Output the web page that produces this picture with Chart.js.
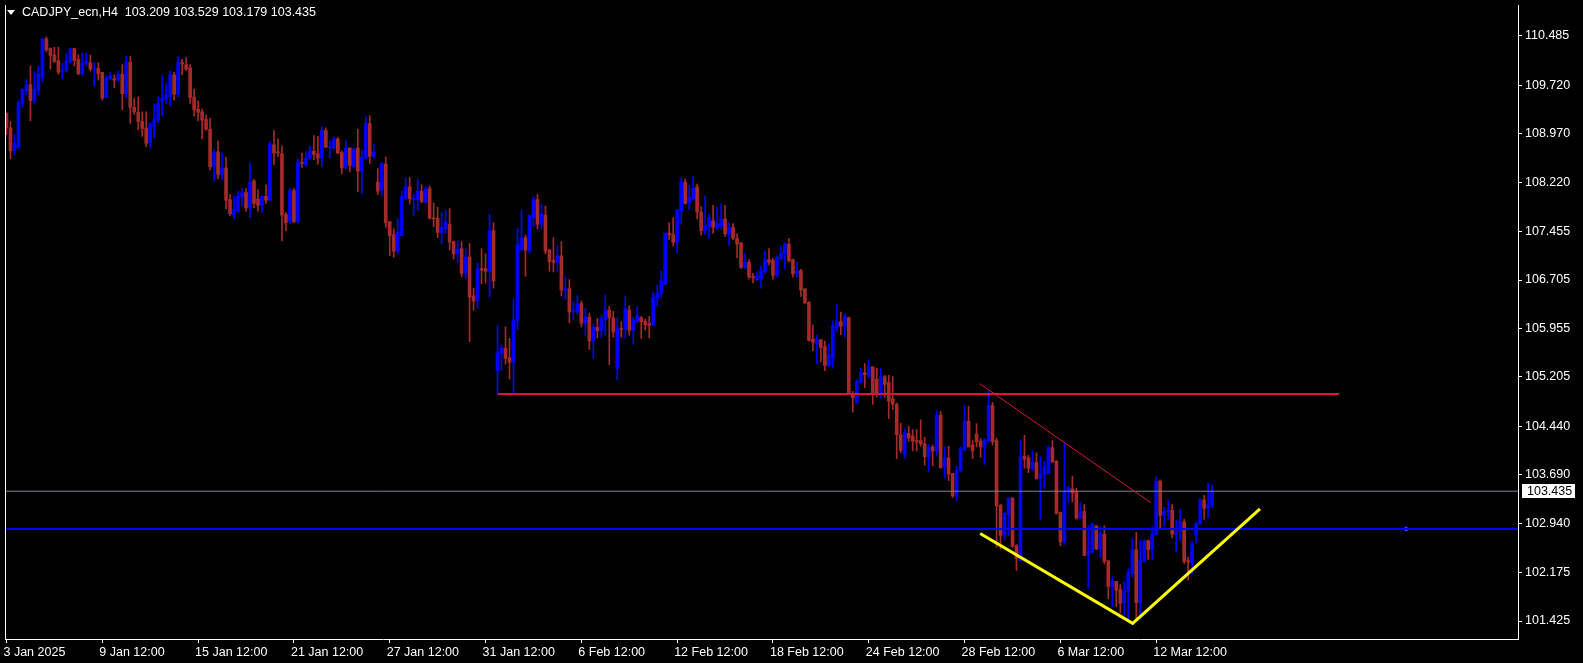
<!DOCTYPE html>
<html>
<head>
<meta charset="utf-8">
<script src="https://cdn.jsdelivr.net/npm/chart.js@4.4.1/dist/chart.umd.min.js"></script>
<style>
  html, body { margin: 0; padding: 0; background: #000; }
  #wrap { position: relative; width: 1583px; height: 663px; }
  #chart { display: block; }
  #title {
    position: absolute; left: 22px; top: 5px;
    color: #fff; font: 12.5px "Liberation Sans", Arial, sans-serif;
    white-space: pre; line-height: 14px;
  }
  #arrow {
    position: absolute; left: 7px; top: 10px; width: 0; height: 0;
    border-left: 4px solid transparent; border-right: 4px solid transparent;
    border-top: 5px solid #fff;
  }
</style>
</head>
<body>
<div id="wrap">
  <canvas id="chart" width="1583" height="663"></canvas>
  <div id="arrow"></div>
  <div id="title">CADJPY_ecn,H4  103.209 103.529 103.179 103.435</div>
</div>
<script>
// H4 candles (bar 0 = 3 Jan 12:00)
const opens = [
  109.29,109.06,108.71,108.75,109.44,109.64,109.73,109.48,109.64,109.84,
  110.44,110.29,110.19,110.10,109.94,109.94,110.08,110.29,110.12,109.90,
  110.06,110.07,109.97,109.98,109.92,109.53,109.82,109.82,109.80,109.89,
  109.59,110.08,109.38,109.30,109.16,109.06,108.83,109.08,109.18,109.47,
  109.50,109.54,109.88,109.58,110.07,110.04,109.99,109.54,109.35,109.31,
  109.19,109.04,108.46,108.69,108.34,108.44,107.95,107.71,107.77,107.99,
  108.06,107.82,108.24,107.96,107.86,108.00,107.94,108.80,108.69,108.66,
  107.72,107.61,108.09,107.61,108.53,108.49,108.59,108.70,108.66,108.59,
  109.02,108.75,108.75,108.89,108.68,108.44,108.75,108.46,108.75,108.39,
  108.59,109.13,108.62,108.22,108.10,108.50,107.61,107.41,107.15,107.39,
  107.97,108.15,107.95,107.95,108.08,107.91,108.12,107.67,107.66,107.44,
  107.50,107.57,107.30,107.11,107.19,106.81,107.06,106.46,106.38,106.88,
  106.88,106.84,107.47,105.30,105.57,105.65,105.50,105.43,106.07,107.17,
  107.36,107.16,107.67,107.95,107.57,107.71,107.17,107.01,106.98,107.08,
  106.55,106.57,106.22,106.22,106.34,106.04,106.13,105.76,105.97,105.92,
  106.09,106.24,106.12,105.33,105.95,105.94,106.24,105.93,106.07,106.12,
  106.07,106.03,106.00,106.42,106.50,106.64,107.43,107.41,107.29,107.77,
  108.22,107.90,107.96,108.15,107.76,107.47,107.53,107.62,107.51,107.54,
  107.65,107.42,107.52,107.35,107.28,106.90,106.98,106.76,106.71,106.72,
  106.83,107.02,107.01,106.78,107.04,107.11,107.26,107.02,106.80,106.85,
  106.57,106.36,105.79,105.72,105.78,105.67,105.38,105.49,105.97,106.06,
  105.99,106.12,104.95,104.80,105.12,105.27,105.22,105.36,105.17,104.95,
  105.21,105.12,104.87,104.78,104.31,104.00,104.33,104.29,104.22,104.22,
  104.17,103.97,104.12,104.06,104.61,103.80,103.95,103.71,103.36,103.75,
  104.07,104.52,104.15,104.32,104.21,104.12,104.21,104.76,104.22,103.22,
  102.75,103.07,103.33,102.59,102.36,103.98,103.95,103.79,103.88,103.63,
  103.69,103.71,104.11,103.90,103.11,102.65,103.42,103.47,103.42,103.02,
  103.12,102.44,102.49,102.90,102.54,102.77,102.36,101.96,102.04,101.91,
  101.70,101.88,102.16,102.53,101.70,102.35,102.67,102.53,102.77,103.59,
  103.06,103.11,103.14,102.77,102.81,102.96,102.36,102.32,102.75,102.93,
  103.30,103.17,103.209
];
const highs = [
  109.29,109.16,108.96,109.48,109.66,109.81,110.02,109.93,110.01,110.44,
  110.47,110.30,110.31,110.31,110.06,110.21,110.29,110.29,110.19,110.22,
  110.22,110.19,110.07,110.07,109.92,109.87,109.92,109.88,109.94,110.04,
  110.17,110.17,109.52,109.54,109.31,109.31,109.14,109.43,109.54,109.87,
  109.75,109.94,109.92,110.16,110.12,110.15,110.04,109.66,109.48,109.35,
  109.26,109.21,108.72,108.86,108.67,108.61,108.03,108.00,108.08,108.13,
  108.12,108.52,108.26,108.10,108.00,108.18,108.85,109.02,108.89,108.78,
  107.75,108.12,108.12,108.58,108.67,108.69,108.78,108.94,108.93,109.08,
  109.06,108.86,108.92,108.91,108.70,108.86,108.75,108.75,109.04,108.71,
  109.23,109.25,108.81,108.43,108.52,108.61,107.61,107.50,107.65,108.08,
  108.29,108.29,108.03,108.27,108.18,108.16,108.16,107.90,107.83,107.75,
  107.79,107.81,107.31,107.31,107.30,107.19,107.27,106.58,106.97,107.19,
  107.11,107.72,107.59,106.00,105.70,105.98,105.80,106.41,107.50,107.79,
  107.40,107.71,107.99,108.03,107.88,107.85,107.18,107.36,107.24,107.30,
  106.75,106.71,106.37,106.47,106.38,106.26,106.19,106.02,106.11,106.16,
  106.47,106.30,106.22,106.12,106.06,106.46,106.31,106.13,106.29,106.14,
  106.10,106.14,106.52,106.63,106.84,107.43,107.59,107.67,107.80,108.29,
  108.27,108.17,108.31,108.19,107.84,108.01,107.72,107.86,107.84,107.89,
  107.86,107.60,107.58,107.42,107.29,107.12,107.02,106.81,106.83,106.93,
  107.16,107.19,107.04,107.08,107.23,107.28,107.35,107.03,106.98,106.87,
  106.57,106.37,106.01,105.85,105.78,105.76,105.72,106.07,106.33,106.21,
  106.18,106.13,104.98,105.16,105.34,105.41,105.47,105.36,105.34,105.34,
  105.23,105.23,105.21,104.80,104.49,104.40,104.44,104.39,104.39,104.54,
  104.27,104.16,104.15,104.68,104.67,104.12,104.13,103.71,103.82,104.12,
  104.76,104.75,104.22,104.48,104.25,104.25,104.98,104.81,104.26,103.23,
  103.11,103.34,103.33,102.61,104.22,104.30,103.99,104.06,104.03,103.97,
  103.90,104.13,104.22,103.91,103.11,104.18,103.51,103.67,103.48,103.26,
  103.23,102.90,102.94,102.90,102.89,102.90,102.36,102.11,102.04,101.99,
  102.03,102.23,102.70,102.80,102.68,102.68,102.68,102.88,103.66,103.61,
  103.18,103.30,103.23,102.99,103.16,103.00,102.41,102.66,102.95,103.32,
  103.37,103.56,103.529
];
const lows = [
  108.96,108.58,108.64,108.74,109.38,109.57,109.17,109.44,109.57,109.78,
  110.24,109.97,110.07,109.89,109.82,109.93,110.06,110.02,109.88,109.87,
  110.02,109.94,109.71,109.80,109.49,109.53,109.81,109.68,109.77,109.34,
  109.53,109.13,109.27,109.03,108.93,108.77,108.75,108.90,109.14,109.25,
  109.43,109.40,109.49,109.54,109.88,109.95,109.44,109.24,109.17,108.89,
  109.02,108.41,108.23,108.27,108.26,107.81,107.70,107.65,107.75,107.85,
  107.77,107.67,107.82,107.77,107.75,107.89,107.94,108.49,108.62,107.31,
  107.47,107.58,107.59,107.58,108.45,108.46,108.57,108.57,108.50,108.46,
  108.76,108.59,108.72,108.66,108.35,108.43,108.38,108.44,108.07,108.05,
  108.58,108.51,108.59,108.03,108.00,107.52,107.08,107.06,107.11,107.39,
  107.95,107.88,107.70,107.79,107.90,107.90,107.65,107.53,107.36,107.26,
  107.43,107.17,107.03,106.97,106.75,106.72,105.75,106.24,106.27,106.65,
  106.66,106.44,106.58,104.94,105.31,105.40,105.17,104.94,105.94,107.16,
  106.76,107.12,107.54,107.50,107.49,107.11,106.84,106.83,106.83,106.46,
  106.41,106.04,106.09,106.18,105.98,105.85,105.63,105.49,105.81,105.82,
  105.85,105.39,105.82,105.16,105.82,105.81,105.85,105.71,106.04,105.80,
  105.93,105.81,106.00,106.30,106.44,106.63,107.33,107.23,107.12,107.57,
  107.88,107.80,107.94,107.65,107.40,107.41,107.35,107.43,107.48,107.49,
  107.38,107.24,107.33,107.05,106.88,106.88,106.72,106.66,106.70,106.58,
  106.81,106.94,106.72,106.75,107.02,106.88,106.98,106.75,106.75,106.45,
  106.34,105.76,105.61,105.41,105.44,105.30,105.36,105.34,105.90,105.86,
  105.82,104.93,104.66,104.80,105.11,105.04,105.19,104.78,104.89,104.88,
  104.89,104.56,104.70,103.94,104.03,103.95,104.21,104.06,104.06,104.13,
  103.84,103.74,103.83,103.98,103.79,103.64,103.60,103.34,103.29,103.74,
  104.06,104.12,103.94,104.12,103.96,103.85,104.19,104.15,102.57,102.54,
  102.69,102.75,102.57,102.21,102.36,103.79,103.72,103.75,103.62,103.00,
  103.47,103.71,103.88,103.08,102.59,102.61,103.26,103.27,103.00,103.00,
  102.44,101.93,102.48,102.53,102.41,102.31,101.77,101.65,101.65,101.55,
  101.50,101.45,102.11,101.45,101.45,102.34,102.38,102.37,102.76,102.85,
  102.89,102.99,102.71,102.49,102.67,102.31,102.06,102.16,102.63,102.92,
  103.00,103.02,103.179
];
const closes = [
  109.06,108.71,108.82,109.45,109.66,109.73,109.48,109.66,109.90,110.44,
  110.27,110.18,110.09,109.92,109.95,110.10,110.29,110.10,109.90,110.07,
  110.10,109.97,109.98,109.90,109.52,109.83,109.87,109.80,109.89,109.59,
  110.08,109.38,109.31,109.16,109.05,108.82,109.11,109.19,109.44,109.52,
  109.57,109.88,109.58,110.07,110.05,109.97,109.53,109.34,109.30,109.18,
  109.04,108.46,108.68,108.34,108.44,107.94,107.73,107.80,108.00,108.06,
  107.82,108.22,107.89,107.86,108.00,107.94,108.81,108.67,108.67,107.71,
  107.59,108.09,107.61,108.53,108.51,108.59,108.70,108.65,108.59,109.02,
  108.76,108.76,108.89,108.67,108.44,108.75,108.48,108.73,108.39,108.61,
  109.13,108.62,108.68,108.08,108.51,107.59,107.39,107.15,107.44,108.00,
  108.15,107.96,107.96,108.08,107.92,108.12,107.66,107.65,107.44,107.52,
  107.60,107.29,107.11,107.19,106.81,107.06,106.44,106.38,106.88,106.86,
  106.84,107.47,106.69,105.58,105.65,105.49,105.43,106.09,107.25,107.36,
  107.17,107.70,107.95,107.57,107.73,107.15,106.99,106.98,107.08,106.55,
  106.57,106.21,106.24,106.34,106.04,106.14,105.76,105.97,105.92,106.11,
  106.24,106.12,105.90,105.95,105.94,106.26,105.93,106.08,106.16,106.06,
  106.01,106.00,106.44,106.50,106.69,107.43,107.40,107.29,107.79,108.22,
  107.89,107.98,108.13,107.76,107.47,107.55,107.67,107.52,107.58,107.65,
  107.42,107.52,107.35,107.26,106.90,106.98,106.75,106.74,106.77,106.86,
  107.02,106.98,106.78,107.05,107.12,107.26,107.00,106.80,106.84,106.55,
  106.35,105.77,105.74,105.79,105.66,105.38,105.55,106.00,106.06,105.99,
  106.13,104.94,104.88,105.14,105.27,105.24,105.36,104.94,104.93,105.21,
  105.09,104.83,104.78,104.31,104.07,104.34,104.26,104.21,104.20,104.17,
  103.97,104.12,104.06,104.61,103.80,103.95,103.70,103.36,103.76,104.09,
  104.52,104.12,104.06,104.20,104.12,104.23,104.76,104.20,103.21,102.75,
  103.09,103.33,102.58,102.39,103.97,103.93,103.79,103.88,103.63,103.70,
  103.81,104.11,103.89,103.09,102.65,103.42,103.49,103.41,103.02,103.12,
  102.44,102.50,102.93,102.54,102.79,102.35,101.96,102.04,101.90,101.70,
  101.89,102.18,102.53,101.71,102.37,102.67,102.53,102.77,103.59,103.06,
  103.12,103.14,102.77,102.82,102.96,102.35,102.34,102.62,102.93,103.30,
  103.17,103.22,103.435
];

// axis ticks
const xTickBars = [0, 24, 48, 72, 96, 120, 144, 168, 192, 216, 240, 264, 288];
const xTickLabels = ['3 Jan 2025', '9 Jan 12:00', '15 Jan 12:00', '21 Jan 12:00', '27 Jan 12:00',
  '31 Jan 12:00', '6 Feb 12:00', '12 Feb 12:00', '18 Feb 12:00', '24 Feb 12:00',
  '28 Feb 12:00', '6 Mar 12:00', '12 Mar 12:00'];
const yTickValues = [101.425, 102.175, 102.940, 103.690, 104.440, 105.205, 105.955,
  106.705, 107.455, 108.220, 108.970, 109.720, 110.485];

// drawn objects
const supportBars = [123, 333.8];
const supportPrices = [104.94, 104.94];
const trendBars = [243.8, 286.6];
const trendPrices = [105.10, 103.26];
const vBars = [243.9, 282.1, 314.0];
const vPrices = [102.78, 101.39, 103.16];
const levelPrice = 102.85;
const levelAnchorBar = 350.6;
const bidPrice = 103.435;

const FONT = '"Liberation Sans", Arial, sans-serif';
const UP = '#0000FF';
const DOWN = '#A52A2A';
const X_MIN = -0.375, X_MAX = 378.625;

const candleColors = opens.map((o, i) => closes[i] >= o ? UP : DOWN);
const wicks = opens.map((o, i) => ({ x: i, y: [lows[i], highs[i]] }));
const bodies = opens.map((o, i) => ({ x: i, y: [o, closes[i]] }));

const pairs = (xs, ys) => xs.map((x, k) => ({ x: x, y: ys[k] }));

// keep the plot area fixed, no extra room for the edge labels
const noPad = s => { s.paddingLeft = 0; s.paddingRight = 0; s.paddingTop = 0; s.paddingBottom = 0; };

const frameAndPrice = {
  id: 'frameAndPrice',
  afterDraw(chart) {
    const { ctx, chartArea: a, scales } = chart;
    ctx.save();
    ctx.strokeStyle = '#fff';
    ctx.lineWidth = 1;
    ctx.beginPath();
    ctx.moveTo(a.left + 0.5, a.top);
    ctx.lineTo(a.left + 0.5, a.bottom);
    ctx.stroke();
    // current price tag on the price axis
    const y = Math.round(scales.y.getPixelForValue(bidPrice));
    ctx.fillStyle = '#fff';
    ctx.fillRect(a.right + 4, y - 7, 53, 14);
    ctx.fillStyle = '#000';
    ctx.font = '12.5px ' + FONT;
    ctx.textBaseline = 'middle';
    ctx.fillText(bidPrice.toFixed(3), a.right + 9, y + 0.5);
    ctx.restore();
  }
};

new Chart(document.getElementById('chart'), {
  type: 'bar',
  data: {
    datasets: [
      {
        type: 'line', data: pairs(supportBars, supportPrices),
        borderColor: '#DC143C', borderWidth: 2, pointRadius: 0, order: 0
      },
      {
        type: 'line', data: pairs(trendBars, trendPrices),
        borderColor: '#DC143C', borderWidth: 1, pointRadius: 0, order: 0
      },
      {
        type: 'line', data: pairs(vBars, vPrices),
        borderColor: '#FFFF00', borderWidth: 3, pointRadius: 0, order: 0
      },
      {
        type: 'line', data: [{ x: X_MIN, y: levelPrice }, { x: X_MAX, y: levelPrice }],
        borderColor: '#0000FF', borderWidth: 2, pointRadius: 0, order: 0
      },
      {
        type: 'line', data: [{ x: levelAnchorBar, y: levelPrice }], showLine: false,
        pointRadius: 2, pointBackgroundColor: '#fff', pointBorderColor: '#0000FF',
        pointBorderWidth: 1, order: 0
      },
      {
        type: 'line', data: [{ x: X_MIN, y: bidPrice }, { x: X_MAX, y: bidPrice }],
        borderColor: '#778899', borderWidth: 1, pointRadius: 0, order: 0
      },
      {
        data: bodies, backgroundColor: candleColors, borderWidth: 0,
        barThickness: 3, minBarLength: 1, grouped: false, order: 1
      },
      {
        data: wicks, backgroundColor: candleColors, borderWidth: 0,
        barThickness: 1, grouped: false, order: 2
      }
    ]
  },
  options: {
    responsive: false,
    animation: false,
    devicePixelRatio: 1,
    layout: { padding: { left: 2, top: 1, right: 0, bottom: 0 } },
    plugins: { legend: { display: false }, tooltip: { enabled: false } },
    scales: {
      x: {
        type: 'linear', min: X_MIN, max: X_MAX, offset: false,
        afterBuildTicks: s => { s.ticks = xTickBars.map(v => ({ value: v })); },
        afterFit: s => { s.height = 24; noPad(s); },
        ticks: {
          color: '#fff', font: { family: FONT, size: 12.5 }, align: 'start',
          maxRotation: 0, autoSkip: false, padding: 2, labelOffset: -3,
          callback: (v, i) => xTickLabels[i]
        },
        grid: { offset: false, drawOnChartArea: false, tickLength: 4, tickColor: '#fff' },
        border: { color: '#fff', width: 1 }
      },
      y: {
        position: 'right', min: 101.147, max: 110.963,
        afterBuildTicks: s => { s.ticks = yTickValues.map(v => ({ value: v })); },
        afterFit: s => { s.width = 65; noPad(s); },
        ticks: {
          color: '#fff', font: { family: FONT, size: 12.5 }, padding: 3,
          callback: v => v.toFixed(3)
        },
        grid: { drawOnChartArea: false, tickLength: 4, tickColor: '#fff' },
        border: { color: '#fff', width: 1 }
      }
    }
  },
  plugins: [frameAndPrice]
});
</script>
</body>
</html>
